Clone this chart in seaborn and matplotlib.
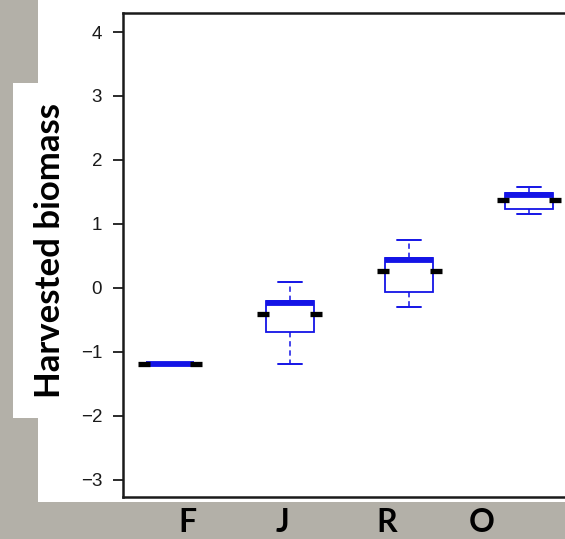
import numpy as np
import pandas as pd
import matplotlib.pyplot as plt
import seaborn as sns
from matplotlib.patches import Rectangle

# groups, and per group the five numbers read off the boxes:
# lower whisker, lower quartile, median, upper quartile, upper whisker
categories = ['F', 'J', 'R', 'O']
five_num = {
    'F': [-1.19, -1.19, -1.19, -1.19, -1.19],
    'J': [-1.19, -0.69, -0.23, -0.20, 0.09],
    'R': [-0.30, -0.06, 0.44, 0.47, 0.75],
    'O': [1.16, 1.23, 1.45, 1.48, 1.58],
}
# short black marks beside each box
marks = [-1.19, -0.41, 0.27, 1.37]
yticks = [-3, -2, -1, 0, 1, 2, 3, 4]
ylabel = 'Harvested biomass'

df = pd.DataFrame([(g, v) for g in categories for v in five_num[g]],
                  columns=['group', 'value'])

sns.set_style('white')
plt.rcParams['font.family'] = ['Liberation Sans', 'DejaVu Sans']

fig = plt.figure(figsize=(5.65, 5.39), dpi=100)
fig.patch.set_facecolor('#b3b0a8')
# white slide panels behind the chart and the axis title
fig.add_artist(Rectangle((0.067, 0.069), 0.94, 0.94, transform=fig.transFigure,
                         facecolor='white', edgecolor='none', zorder=-2))
fig.add_artist(Rectangle((0.023, 0.2245), 0.06, 0.6215, transform=fig.transFigure,
                         facecolor='white', edgecolor='none', zorder=-2))

ax = fig.add_axes([0.2177, 0.0779, 0.7823, 0.8971])
ax.set_facecolor('white')

blue = '#1414e6'
sns.boxplot(data=df, x='group', y='value', order=categories, whis=np.inf,
            width=0.4, color='white', linecolor=blue, linewidth=1.3,
            showfliers=False, ax=ax,
            medianprops=dict(color=blue, linewidth=4.2, solid_capstyle='butt'),
            whiskerprops=dict(color=blue, linestyle=(0, (3.5, 2.5)), linewidth=1.1),
            capprops=dict(color=blue, linewidth=1.4))

for i, m in enumerate(marks):
    ax.hlines([m, m], [i - 0.27, i + 0.17], [i - 0.17, i + 0.27],
              colors='black', linewidth=3.8, zorder=5)

ax.set_xlim(-0.393, 3.30)
ax.set_ylim(-3.27, 4.29)
ax.set_yticks(yticks)
ax.set_yticklabels([str(t).replace('-', '\u2212') for t in yticks])
ax.set_xticks([])
ax.set_xlabel('')
ax.set_ylabel('')
ax.tick_params(axis='y', length=7, width=1.3, pad=8, labelsize=13.5,
               labelcolor='#1a1a1a', color='#1a1a1a', left=True)
for side in ['left', 'top', 'bottom']:
    ax.spines[side].set_visible(True)
    ax.spines[side].set_color('#1a1a1a')
    ax.spines[side].set_linewidth(1.8)
ax.spines['right'].set_visible(False)

fig.text(0.0885, 0.535, ylabel, rotation=90, ha='center', va='center',
         fontsize=25, fontweight='bold', color='black',
         family=['Lato', 'DejaVu Sans'])

label_x = [187, 282, 387, 482]
for c, px in zip(categories, label_x):
    fig.text(px / 565, 0.004, c, ha='center', va='bottom', fontsize=23,
             fontweight='bold', color='black', family=['Lato', 'DejaVu Sans'])

fig.savefig('out.png', dpi=100)
